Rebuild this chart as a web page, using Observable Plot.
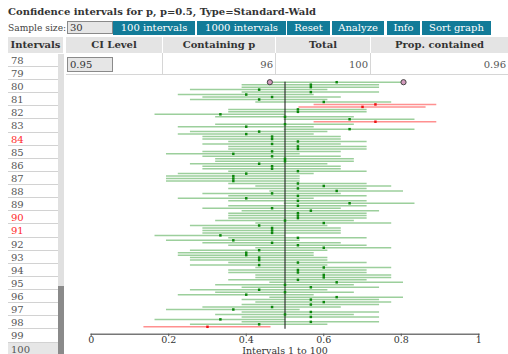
<!DOCTYPE html>
<html>
<head>
<meta charset="utf-8">
<script src="https://cdn.jsdelivr.net/npm/d3@7"></script>
<script src="https://cdn.jsdelivr.net/npm/@observablehq/plot@0.6"></script>
<style>
html,body{margin:0;padding:0;background:#fff}
body{width:508px;height:354px;overflow:hidden;position:relative;font-family:"DejaVu Serif",serif;font-size:10px;color:#444}
.a{position:absolute;white-space:nowrap;box-sizing:border-box}
#title{left:8px;top:4.5px;font-weight:bold;color:#333;line-height:14px}
#ss{left:8px;top:20.8px;line-height:14px;color:#444;font-size:9.1px}
.inp{background:#e6e6e6;border:1px solid #8a8a8a;color:#333;padding-left:2px}
.btn{background:#127b98;color:#fff;text-align:center;top:21px;height:13.5px;line-height:13px}
.hd{background:#e4e4e4;top:37px;height:16px;line-height:16px;text-align:center;font-weight:bold;color:#333}
.val{top:57px;height:15px;line-height:15px;text-align:right;color:#555;padding-right:2px}
.sep{background:#d6d6d6}
.row{left:8px;width:50px;height:13.12px;line-height:13px;border-bottom:1px solid #d2d2d2;padding-left:3px;color:#555;background:#fff}
#chart{left:0;top:72px}
#chart svg{display:block}
</style>
</head>
<body>
<div class="a" id="title"></div>
<div class="a" id="ss">Sample size:</div>
<div id="ui"></div>
<div class="a" id="list" style="left:0;top:53.9px;width:64px;height:300.1px;overflow:hidden"></div>
<div class="a" style="left:58px;top:53.9px;width:6px;height:300.1px;background:#e0e0e0"></div>
<div class="a" style="left:58px;top:286px;width:6px;height:68px;background:#8a8a8a"></div>
<div class="a" id="chart"></div>
<script>
// ---- data ----
const chartTitle = "Confidence intervals for p, p=0.5, Type=Standard-Wald";
const trueP = 0.5;
const sampleSize = 30;
const ciLevel = 0.95;
const zCrit = 1.96;
const buttonLabels = ["100 intervals", "1000 intervals", "Reset", "Analyze", "Info", "Sort graph"];
const columnHeaders = ["CI Level", "Containing p", "Total", "Prop. contained"];
// number of successes (out of 30) for intervals 1..100
const successes = [
  9, 13, 17, 10, 17, 15, 17, 11, 14, 17,
  18, 17, 19, 12, 15, 13, 17, 15, 19, 16,
  18, 18, 16, 16, 18, 13, 16, 13, 13, 12,
  12, 13, 18, 16, 14, 11, 16, 10, 14, 14,
  14, 13, 18, 15, 16, 16, 16, 17, 14, 16,
  20, 16, 12, 16, 14, 19, 16, 18, 16, 11,
  11, 11, 12, 16, 14, 14, 13, 15, 15, 14,
  11, 14, 16, 16, 14, 16, 14, 14, 12, 13,
  20, 12, 15, 22, 20, 15, 10, 16, 16, 21,
  22, 18, 13, 14, 12, 17, 13, 17, 17, 19
];
const visibleIntervals = [78, 79, 80, 81, 82, 83, 84, 85, 86, 87, 88, 89, 90, 91, 92, 93, 94, 95, 96, 97, 98, 99, 100];
const selectedInterval = 100;
const xTicks = [0, 0.2, 0.4, 0.6, 0.8, 1];
const xTickLabels = ["0", "0.2", "0.4", "0.6", "0.8", "1"];
const xLabel = "Intervals 1 to 100";

// ---- derived table (Standard-Wald intervals) ----
const rows = successes.map((k, i) => {
  const p = k / sampleSize;
  const hw = zCrit * Math.sqrt(p * (1 - p) / sampleSize);
  return {id: i + 1, phat: p, lo: p - hw, hi: p + hw, contains: p - hw <= trueP && trueP <= p + hw};
});
const inside = rows.filter(d => d.contains);
const outside = rows.filter(d => !d.contains);
const sel = rows.filter(d => d.id === selectedInterval);
const nContain = inside.length;

// ---- HTML controls ----
document.getElementById("title").textContent = chartTitle;
const ui = document.getElementById("ui");
function box(cls, style, text) {
  const d = document.createElement("div");
  d.className = "a " + cls;
  d.setAttribute("style", style);
  d.textContent = text;
  ui.appendChild(d);
  return d;
}
box("inp", "left:67px;top:21px;width:46px;height:13px;line-height:11px", String(sampleSize));
const btnX = [[113, 195], [197, 286], [287, 330], [332, 384], [387, 420], [422, 491]];
buttonLabels.forEach((t, i) => box("btn", `left:${btnX[i][0]}px;width:${btnX[i][1] - btnX[i][0]}px`, t));
box("hd", "left:8px;width:55px", "Intervals");
const colX = [[66, 162], [162, 275], [275, 370], [370, 508]];
columnHeaders.forEach((t, i) => box("hd", `left:${colX[i][0] + (i ? 1 : 0)}px;width:${colX[i][1] - colX[i][0] - (i ? 1 : 0)}px`, t));
box("inp", "left:67px;top:57px;width:46px;height:15px;line-height:13px", String(ciLevel));
box("val", `left:${colX[1][0]}px;width:${colX[1][1] - colX[1][0]}px`, String(nContain));
box("val", `left:${colX[2][0]}px;width:${colX[2][1] - colX[2][0]}px`, String(rows.length));
box("val", `left:${colX[3][0]}px;width:${colX[3][1] - colX[3][0]}px`, String(nContain / rows.length));
box("sep", "left:66px;top:74px;width:442px;height:1px", "");
[162, 275, 370].forEach(x => box("sep", `left:${x}px;top:53px;width:1px;height:21px`, ""));

const list = document.getElementById("list");
visibleIntervals.forEach((id, j) => {
  const d = document.createElement("div");
  d.className = "a row";
  d.style.top = (13.12 * j) + "px";
  d.textContent = id;
  const r = rows[id - 1];
  if (!r.contains) d.style.color = "#ff2a2a";
  if (id === selectedInterval) d.style.background = "#e6e6e6";
  list.appendChild(d);
});

// ---- chart ----
const chart = Plot.plot({
  width: 508,
  height: 282,
  marginTop: 0,
  marginRight: 29.7,
  marginBottom: 20.3,
  marginLeft: 90.7,
  style: {fontFamily: "'DejaVu Serif', serif", fontSize: "9.5px", color: "#333", background: "transparent", overflow: "visible"},
  x: {domain: [0, 1]},
  y: {domain: [1, 100], range: [254.3, 9.7], axis: null},
  marks: [
    Plot.frame({anchor: "bottom", stroke: "#777", strokeWidth: 1.5}),
    Plot.axisX({ticks: xTicks, tickFormat: d => xTickLabels[xTicks.indexOf(d)], tickSize: 2.5, tickPadding: 0, stroke: "#555",
      label: xLabel, labelAnchor: "center", labelArrow: "none", labelOffset: 19.5}),
    Plot.ruleY(inside, {y: "id", x1: "lo", x2: "hi", stroke: "#9ccf9c", strokeWidth: 1.5}),
    Plot.ruleY(outside, {y: "id", x1: "lo", x2: "hi", stroke: "#ff9090", strokeWidth: 1.5}),
    Plot.ruleX([trueP], {y1: 0, y2: rows.length, stroke: "#111", strokeWidth: 1}),
    Plot.dot(inside, {x: "phat", y: "id", symbol: "square", r: 1.4, fill: "#0b860b"}),
    Plot.dot(outside, {x: "phat", y: "id", symbol: "square", r: 1.4, fill: "#ee1111"}),
    Plot.dot(sel, {x: "lo", y: "id", r: 2.6, fill: "#d39bbd", stroke: "#444", strokeWidth: 1}),
    Plot.dot(sel, {x: "hi", y: "id", r: 2.6, fill: "#d39bbd", stroke: "#444", strokeWidth: 1})
  ]
});
document.getElementById("chart").appendChild(chart);
</script>
</body>
</html>
